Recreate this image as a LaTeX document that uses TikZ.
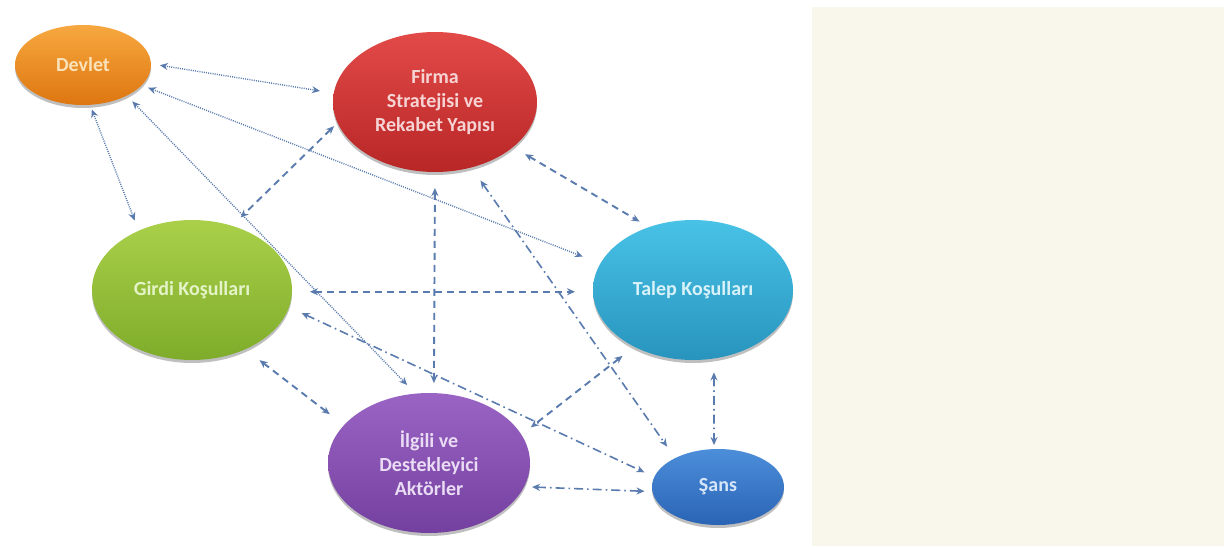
\documentclass[tikz,border=0pt]{standalone}
\usepackage{fontspec}
\setmainfont{Carlito}
\usetikzlibrary{arrows.meta,shapes.geometric,shadows}
\definecolor{arr}{HTML}{5A7BAE}
\definecolor{panel}{HTML}{F9F6EB}
\begin{document}
\begin{tikzpicture}[x=1pt,y=-1pt,
  bub/.style={ellipse, inner sep=0pt, outer sep=0pt, align=center,
    font=\fontsize{20}{24}\selectfont\bfseries,
    drop shadow={shadow xshift=0pt,shadow yshift=-3pt,opacity=0.25,fill=black}},
  con/.style={draw=arr, {Stealth[length=8pt,width=7pt]}-{Stealth[length=8pt,width=7pt]}},
  dotc/.style={con, line width=1.4pt, dash pattern=on 1pt off 1.2pt},
  dashc/.style={con, line width=1.9pt, dash pattern=on 7pt off 5pt},
  dotdashc/.style={con, line width=1.6pt, dash pattern=on 9pt off 4pt on 1.6pt off 4pt},
]
\fill[white] (0,0) rectangle (1228,546);
\fill[panel] (812,7) rectangle (1224,546);
\useasboundingbox (0,0) rectangle (1228,546);

\node[bub, minimum width=136pt, minimum height=80pt, top color={rgb,255:red,247;green,168;blue,64}, bottom color={rgb,255:red,222;green,118;blue,16},
  text={rgb,255:red,250;green,226;blue,186}] (dev) at (83,65) {Devlet};
\node[bub, minimum width=204pt, minimum height=140pt, top color={rgb,255:red,226;green,74;blue,72}, bottom color={rgb,255:red,184;green,38;blue,38},
  text={rgb,255:red,246;green,212;blue,212}] (fir) at (435,102) {Firma\\Stratejisi ve\\Rekabet Yapısı};
\node[bub, minimum width=200pt, minimum height=140pt, top color={rgb,255:red,72;green,194;blue,230}, bottom color={rgb,255:red,40;green,148;blue,190},
  text={rgb,255:red,216;green,242;blue,250}] (tal) at (693,290) {Talep Koşulları};
\node[bub, minimum width=200pt, minimum height=140pt, top color={rgb,255:red,170;green,208;blue,74}, bottom color={rgb,255:red,126;green,172;blue,42},
  text={rgb,255:red,228;green,244;blue,200}] (gir) at (192,290) {Girdi Koşulları};
\node[bub, minimum width=202pt, minimum height=140pt, top color={rgb,255:red,154;green,100;blue,196}, bottom color={rgb,255:red,116;green,64;blue,160},
  text={rgb,255:red,234;green,220;blue,244}] (ilg) at (429,463) {İlgili ve\\Destekleyici\\Aktörler};
\node[bub, minimum width=132pt, minimum height=76pt, top color={rgb,255:red,76;green,142;blue,218}, bottom color={rgb,255:red,42;green,100;blue,180},
  text={rgb,255:red,214;green,230;blue,250}] (san) at (718,487) {Şans};

% Devlet links (dotted)
\draw[dotc, shorten <=9pt, shorten >=14pt] (dev.1) -- (fir.175);
\draw[dotc, shorten <=7pt, shorten >=19pt] (dev.-19.5) -- (tal.164);
\draw[dotc, shorten <=5pt, shorten >=11pt] (dev.-80) -- (gir.132.8);
\draw[dotc, shorten <=8pt, shorten >=12pt] (dev.-35) -- (ilg.101.9);
% Firma links
\draw[dashc, shorten <=5pt, shorten >=12pt] (fir.192.7) -- (gir.58.5);
\draw[dashc, shorten <=14pt, shorten >=11pt] (fir.-30.5) -- (tal.125.3);
\draw[dashc, shorten <=16pt, shorten >=10pt] (fir.-90.6) -- (ilg.86);
\draw[dotdashc, shorten <=16pt, shorten >=14pt] (fir.-61.7) -- (san.146);
% Girdi links
\draw[dashc, shorten <=18pt, shorten >=18pt] (gir.-1.5) -- (tal.181.5);
\draw[dotdashc, shorten <=14pt, shorten >=11pt] (gir.-10.2) -- (san.171);
\draw[dashc, shorten <=18pt, shorten >=18pt] (gir.-48.3) -- (ilg.156.2);
% Talep links
\draw[dashc, shorten <=15pt, shorten >=12pt] (tal.-136.3) -- (ilg.17.6);
\draw[dotdashc, shorten <=14pt, shorten >=4pt] (tal.-73) -- (san.96.8);
% Ilgili - Sans
\draw[dotdashc, shorten <=8pt, shorten >=8pt] (ilg.-14.2) -- (san.184.7);
\end{tikzpicture}
\end{document}
